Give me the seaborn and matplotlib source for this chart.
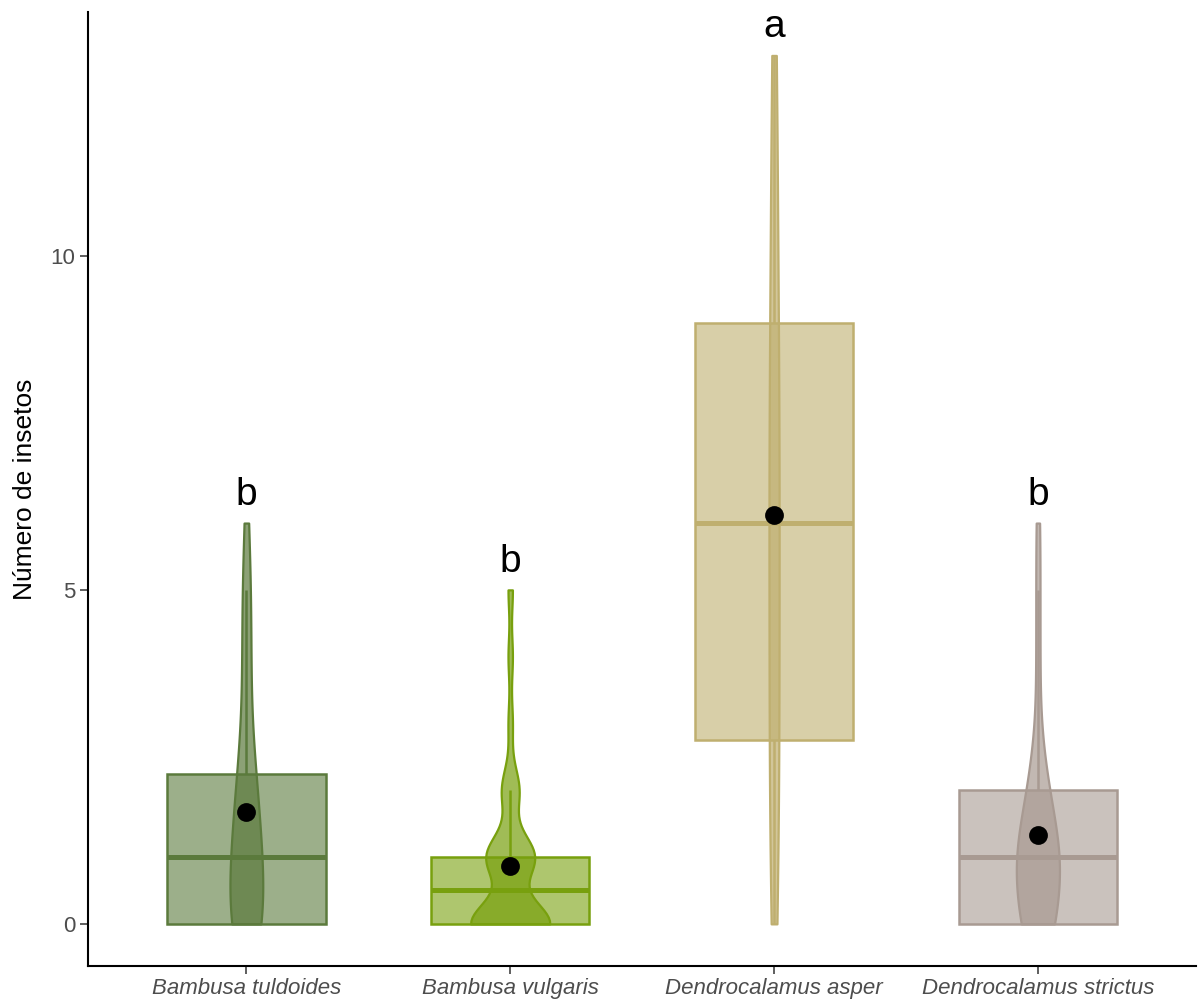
import numpy as np
import pandas as pd
import matplotlib
matplotlib.use("Agg")
import matplotlib.pyplot as plt
from matplotlib.colors import to_rgba
import seaborn as sns

# Insect counts per bamboo species, as frequencies of each count value 0, 1, 2, ...
species = ["Bambusa tuldoides", "Bambusa vulgaris",
           "Dendrocalamus asper", "Dendrocalamus strictus"]
tuldoides_freq = [9, 7, 5, 2, 2, 2, 1]          # counts 0..6
vulgaris_freq = [18, 11, 4, 1, 1, 1]             # counts 0..5
asper_obs = [0, 1, 2, 2, 3, 4, 5, 6, 6, 7, 8, 9, 9, 11, 12, 13]
strictus_freq = [9, 12, 5, 1, 1, 1, 1]          # counts 0..6
letters = ["b", "b", "a", "b"]
colors = ["#5B7A3C", "#78A00E", "#BFAF6F", "#A89A92"]

samples = [
    np.repeat(np.arange(len(tuldoides_freq)), tuldoides_freq),
    np.repeat(np.arange(len(vulgaris_freq)), vulgaris_freq),
    np.array(asper_obs),
    np.repeat(np.arange(len(strictus_freq)), strictus_freq),
]
df = pd.concat(
    [pd.DataFrame({"especie": name, "insetos": vals.astype(float)})
     for name, vals in zip(species, samples)],
    ignore_index=True,
)

sns.set_style("ticks")
plt.rcParams["font.family"] = ["Liberation Sans", "DejaVu Sans"]


def nrd0(x):
    sd = np.std(x, ddof=1)
    iqr = np.subtract(*np.percentile(x, [75, 25]))
    return 0.9 * min(sd, iqr / 1.34) * len(x) ** -0.2


def kde_peak(x, bw):
    grid = np.linspace(x.min(), x.max(), 512)
    z = (grid[:, None] - x[None, :]) / bw
    dens = np.exp(-0.5 * z ** 2).sum(axis=1) / (len(x) * bw * np.sqrt(2 * np.pi))
    return dens.max()


# equal-area violins: width proportional to each group's peak density
bws = [nrd0(s) for s in samples]
peaks = [kde_peak(s, b) for s, b in zip(samples, bws)]
max_width = 0.3
vwidths = [max_width * p / max(peaks) for p in peaks]

fig = plt.figure(figsize=(11.98, 10.01), dpi=100)
ax = fig.add_axes([0.0735, 0.035, 0.925, 0.953])

for i, name in enumerate(species):
    sub = df[df["especie"] == name]
    c = colors[i]
    sns.boxplot(data=sub, x="especie", y="insetos", order=species, ax=ax,
                width=0.6, color=c, linecolor=c, linewidth=1.8,
                showfliers=False, showcaps=False, whis=1.5,
                boxprops={"facecolor": to_rgba(c, 0.6), "zorder": 2},
                medianprops={"linewidth": 3.6, "color": c, "zorder": 2.1},
                whiskerprops={"linewidth": 1.8, "color": c, "zorder": 2})

for i, name in enumerate(species):
    sub = df[df["especie"] == name]
    c = colors[i]
    n_before = len(ax.collections)
    sns.violinplot(data=sub, x="especie", y="insetos", order=species, ax=ax,
                   cut=0, inner=None, density_norm="width", width=vwidths[i],
                   bw_method=bws[i] / np.std(samples[i], ddof=1),
                   color=c, linecolor=c, linewidth=1.6)
    for coll in ax.collections[n_before:]:
        coll.set_facecolor(to_rgba(c, 0.7))
        coll.set_edgecolor(c)
        coll.set_zorder(3)

sns.pointplot(data=df, x="especie", y="insetos", order=species, ax=ax,
              estimator="mean", errorbar=None, color="black",
              linestyle="none", marker="o", markersize=11.5)
for line in ax.lines[-4:]:
    line.set_zorder(5)
for coll in ax.collections:
    if coll.get_zorder() < 3:
        coll.set_zorder(5)

for i, name in enumerate(species):
    top = samples[i].max()
    ax.text(i, top + 0.42, letters[i], ha="center", va="center",
            fontsize=28, color="black", zorder=6)

ax.set_xlim(-0.6, 3.6)
ax.set_ylim(-0.63, 13.65)
ax.set_yticks([0, 5, 10])
ax.set_xlabel("")
ax.set_ylabel("Número de insetos", fontsize=19, color="black", labelpad=10)
ax.tick_params(axis="both", length=5.5, width=1.1, color="#333333",
               labelcolor="#4D4D4D")
ax.tick_params(axis="y", labelsize=16)
ax.tick_params(axis="x", labelsize=16)
for lab in ax.get_xticklabels():
    lab.set_fontstyle("italic")
for side in ["top", "right"]:
    ax.spines[side].set_visible(False)
for side in ["left", "bottom"]:
    ax.spines[side].set_linewidth(1.5)
    ax.spines[side].set_color("black")

fig.savefig("out.png", dpi=100)
